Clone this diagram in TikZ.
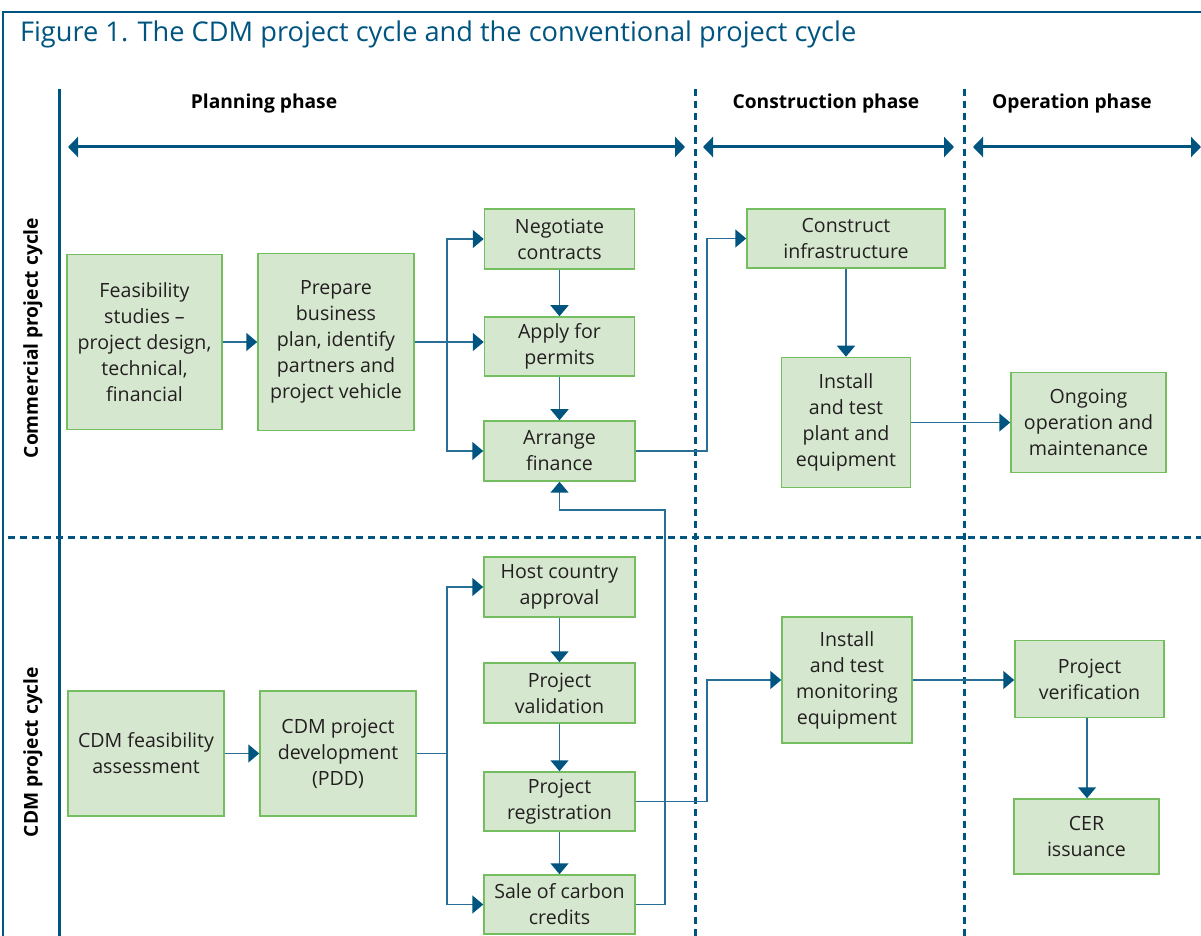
\documentclass[tikz,border=0pt]{standalone}
\usepackage{fontspec}
\setmainfont{Open Sans}
\usetikzlibrary{arrows.meta, calc}

\definecolor{cdmblue}{RGB}{0,84,128}
\definecolor{linkblue}{RGB}{40,110,150}
\definecolor{boxfill}{RGB}{214,231,207}
\definecolor{boxline}{RGB}{116,190,96}
\definecolor{boxtext}{RGB}{35,31,32}

\begin{document}
\begin{tikzpicture}[x=0.5pt, y=-0.5pt, >={Triangle[length=5.5pt,width=9pt,color=cdmblue]},
    box node/.style={draw=boxline, fill=boxfill, line width=0.75pt, align=center, inner sep=0pt, text=boxtext, font=\fontsize{9.8}{13}\selectfont},
    boxsize/.style 2 args={minimum width=#1*0.5pt, minimum height=#2*0.5pt},
    conn/.style={->, draw=linkblue, line width=0.75pt},
    phase arrow/.style={{Triangle[length=5pt,width=10pt]}-{Triangle[length=5pt,width=10pt]}, draw=cdmblue, line width=1.5pt},
    phase label/.style={font=\fontsize{9.6}{11}\selectfont\bfseries, anchor=base},
    cycle label/.style={font=\fontsize{9.6}{11}\selectfont\bfseries, rotate=90},
    divider/.style={draw=cdmblue, line width=1.5pt, dash pattern=on 3.5pt off 2.5pt}]

        \useasboundingbox (0,0) rectangle (1201,936);

        % frame and title
        \draw[cdmblue, line width=1pt] (3,936) -- (3,12) -- (1201,12);
        \node[anchor=base west, text=cdmblue, font=\fontsize{13.6}{16}\selectfont] (title) at (13,42) {Figure 1. The CDM project cycle and the conventional project cycle};

        % lanes
        \draw[cdmblue, line width=1.5pt] (59,89) -- (59,936);
        \draw[divider] (695,89) -- (695,936);
        \draw[divider] (964,89) -- (964,936);
        \draw[divider] (8,538) -- (1201,538);

        % phases
        \node[phase label] (planlbl)  at (264,109)  {Planning phase};
        \node[phase label] (conslbl)  at (826,109)  {Construction phase};
        \node[phase label] (operlbl)  at (1072,109) {Operation phase};
        \draw[phase arrow] (68,147) -- (685,147);
        \draw[phase arrow] (703,147) -- (954,147);
        \draw[phase arrow] (973,147) -- (1201,147);

        \node[cycle label] (comlbl) at (33,338) {Commercial project cycle};
        \node[cycle label] (cdmlbl) at (33,752) {CDM project cycle};

        % commercial project cycle
        \node[box node, boxsize={155}{175}] (feas)    at (144.5,342)   {Feasibility\\studies --\\project design,\\technical,\\financial};
        \node[box node, boxsize={156}{177}] (prep)    at (336,342)     {Prepare\\business\\plan, identify\\partners and\\project vehicle};
        \node[box node, boxsize={150}{60}]  (neg)     at (559.5,239)   {Negotiate\\contracts};
        \node[box node, boxsize={150}{59}]  (apply)   at (559.5,346.5) {Apply for\\permits};
        \node[box node, boxsize={151}{60}]  (arrange) at (559.5,451)   {Arrange\\finance};
        \node[box node, boxsize={198}{59}]  (constr)  at (846,238.5)   {Construct\\infrastructure};
        \node[box node, boxsize={129}{130}] (install) at (846,422.5)   {Install\\and test\\plant and\\equipment};
        \node[box node, boxsize={155}{100}] (ongoing) at (1088.5,422.5) {Ongoing\\operation and\\maintenance};

        % CDM project cycle
        \node[box node, boxsize={156}{125}] (cfeas)   at (146,753.5)   {CDM feasibility\\assessment};
        \node[box node, boxsize={156}{125}] (cdev)    at (338,753.5)   {CDM project\\development\\(PDD)};
        \node[box node, boxsize={151}{60}]  (host)    at (559.5,587)   {Host country\\approval};
        \node[box node, boxsize={151}{60}]  (valid)   at (559.5,693)   {Project\\validation};
        \node[box node, boxsize={151}{59}]  (reg)     at (559.5,801.5) {Project\\registration};
        \node[box node, boxsize={151}{59}]  (sale)    at (559.5,904.5) {Sale of carbon\\credits};
        \node[box node, boxsize={130}{126}] (monit)   at (847,680)     {Install\\and test\\monitoring\\equipment};
        \node[box node, boxsize={149}{77}]  (verif)   at (1089.5,679)  {Project\\verification};
        \node[box node, boxsize={145}{75}]  (cer)     at (1086.5,836.5) {CER\\issuance};

        \coordinate (csplit)  at (447,0);
        \coordinate (cjog)    at (707,0);
        \coordinate (creturn) at (665,510);

        \path[conn]
            (feas)    edge (prep)
            (neg)     edge (apply)
            (apply)   edge (arrange)
            (constr)  edge (install)
            (install) edge (ongoing)
            (cfeas)   edge (cdev)
            (host)    edge (valid)
            (valid)   edge (reg)
            (reg)     edge (sale);

        \draw[conn] (monit.east) -- (monit.east -| verif.west);
        \draw[conn] (verif.south -| 1087,0) -- (cer.north -| 1087,0);

        \draw[conn] (prep.east) -- (prep.east -| apply.west);
        \draw[conn] (prep.east -| csplit) |- (neg.west);
        \draw[conn] (prep.east -| csplit) |- (arrange.west);
        \draw[conn] (arrange.east) -- (arrange.east -| cjog) |- (constr.west);
        \draw[conn] (sale.east) -| (creturn) -| (arrange.south);

        \draw[draw=linkblue, line width=0.75pt] (cdev.east) -- (cdev.east -| csplit);
        \draw[conn] (cdev.east -| csplit) |- (host.west);
        \draw[conn] (cdev.east -| csplit) |- (sale.west);
        \draw[conn] (reg.east) -- (reg.east -| cjog) |- (monit.west);
\end{tikzpicture}
\end{document}
